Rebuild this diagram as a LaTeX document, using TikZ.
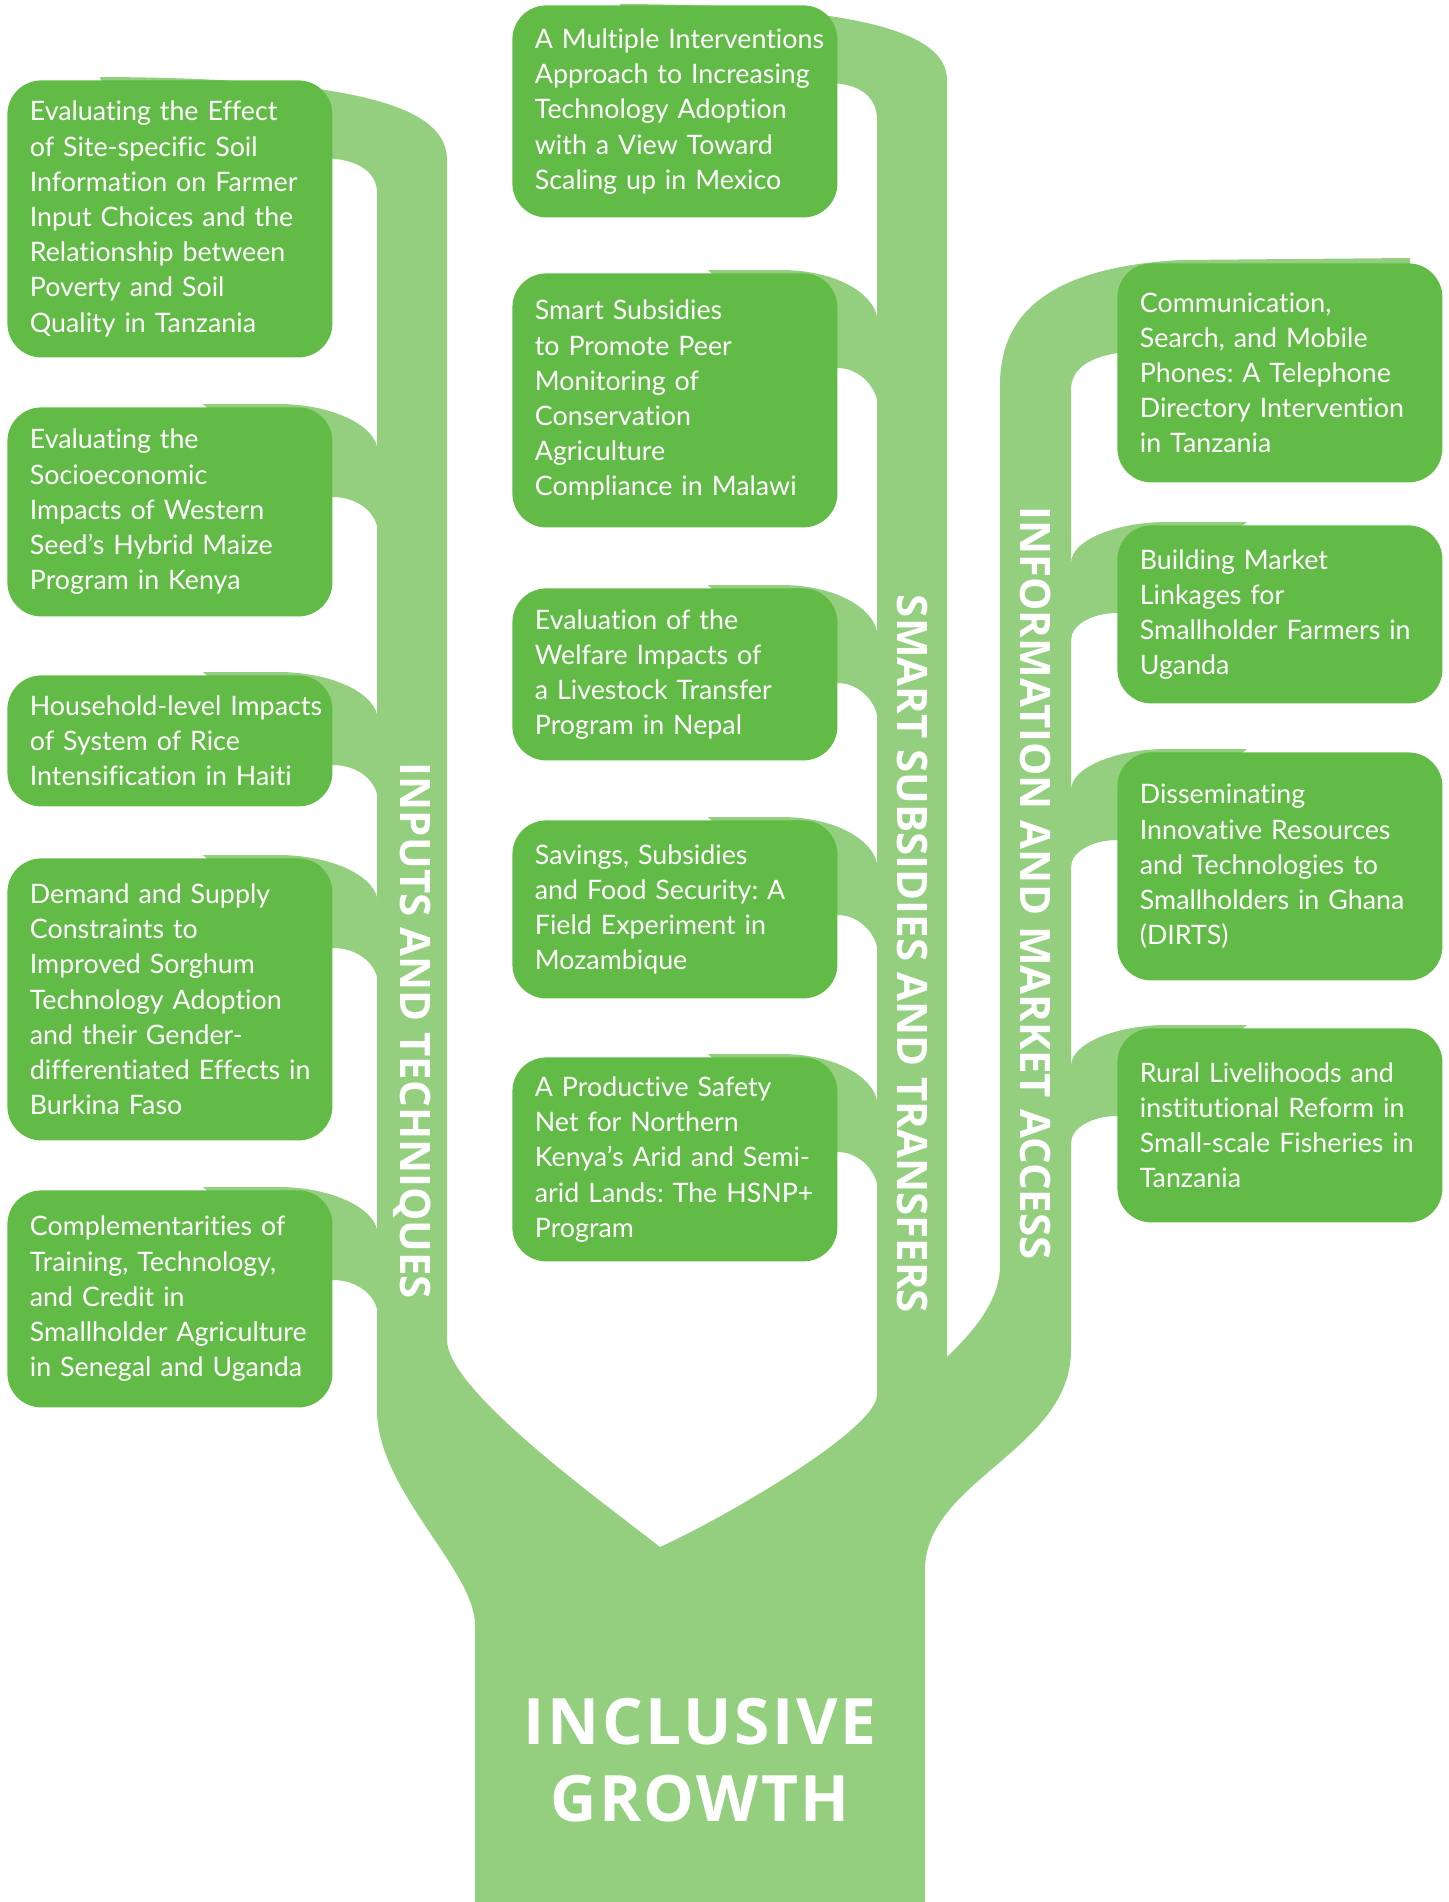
\documentclass[tikz,border=0pt]{standalone}
\usepackage{fontspec}
\setmainfont{Lato}[Ligatures={TeX,NoCommon}]
\newfontfamily\labelfont{Open Sans}
\usepackage{tikz}
\usetikzlibrary{calc,backgrounds}
\definecolor{boxgreen}{RGB}{98,187,70}
\definecolor{stemgreen}{RGB}{147,207,127}
\tikzset{
  study/.style={fill=boxgreen, rounded corners=17pt, text=white, align=left,
    text width=140pt, inner xsep=11.25pt, inner ysep=0pt, minimum width=162.5pt,
    anchor=north west, font=\fontsize{13.4}{17.6}\selectfont,
    execute at begin node={\hyphenpenalty=10000\exhyphenpenalty=10000\hbadness=10000\hfuzz=20pt}},
  stemlabel/.style={text=white, rotate=-90, font=\labelfont\bfseries\fontsize{21}{21}\selectfont},
  growthlabel/.style={text=white, align=center,
    font=\labelfont\bfseries\fontsize{32}{38.5}\selectfont\addfontfeatures{LetterSpace=4}}
}
\frenchspacing

\begin{document}
\begin{tikzpicture}[x=0.5pt, y=-0.5pt]
    \useasboundingbox (0,0) rectangle (1449,1902);

    % Inputs and techniques
    \node[study, minimum height=138.5pt] (lb1) at (7,80) {Evaluating the Effect\\of Site-specific Soil\\Information on Farmer\\Input Choices and the\\Relationship between\\Poverty and Soil\\Quality in Tanzania};
    \node[study, minimum height=104.5pt] (lb2) at (7,407) {Evaluating the\\Socioeconomic\\Impacts of Western\\Seed's Hybrid Maize\\Program in Kenya};
    \node[study, minimum height=65.5pt] (lb3) at (7,675) {Household-level~Impacts\\of System of Rice\\Intensification in Haiti};
    \node[study, minimum height=141pt] (lb4) at (7,858) {Demand and Supply\\Constraints to\\Improved Sorghum\\Technology Adoption\\and their Gender-\\differentiated~Effects~in\\Burkina Faso};
    \node[study, minimum height=108.5pt] (lb5) at (7,1190) {Complementarities of\\Training, Technology,\\and Credit in\\Smallholder~Agriculture\\in Senegal and Uganda};

    % Smart subsidies and transfers
    \node[study, minimum height=106pt] (mb1) at (512,5) {A~Multiple~Interventions\\Approach to Increasing\\Technology Adoption\\with a View Toward\\Scaling up in Mexico};
    \node[study, minimum height=127pt] (mb2) at (512,273) {Smart Subsidies\\to Promote Peer\\Monitoring of\\Conservation\\Agriculture\\Compliance in Malawi};
    \node[study, minimum height=86pt] (mb3) at (512,588) {Evaluation of the\\Welfare Impacts of\\a Livestock Transfer\\Program in Nepal};
    \node[study, minimum height=89pt] (mb4) at (512,820) {Savings, Subsidies\\and Food Security: A\\Field Experiment in\\Mozambique};
    \node[study, minimum height=102pt] (mb5) at (512,1057) {A Productive Safety\\Net for Northern\\Kenya's Arid and Semi-\\arid~Lands:~The~HSNP+\\Program};

    % Information and market access
    \node[study, minimum height=109.5pt] (rb1) at (1117,263) {Communication,\\Search, and Mobile\\Phones: A Telephone\\Directory~Intervention\\in Tanzania};
    \node[study, minimum height=89pt] (rb2) at (1117,525) {Building Market\\Linkages for\\Smallholder~Farmers~in\\Uganda};
    \node[study, minimum height=114pt] (rb3) at (1117,752) {Disseminating\\Innovative Resources\\and Technologies to\\Smallholders~in~Ghana\\(DIRTS)};
    \node[study, minimum height=97pt] (rb4) at (1117,1028) {Rural Livelihoods and\\institutional~Reform~in\\Small-scale~Fisheries~in\\Tanzania};

    \begin{scope}[on background layer]
    % Trunk with the three stems
    \fill[stemgreen]
        (475,1902) -- (475,1625)
        .. controls (475,1570) and (377,1490) .. (377,1410)
        -- (377,193)
        .. controls (377,172) and (358,158) .. (320,158)
        -- (120,158) -- (100,77)
        .. controls (370,78) and (447,110) .. (447,160)
        -- (447,1340)
        .. controls (447,1390) and (600,1500) .. (660,1547)
        .. controls (720,1520) and (877,1430) .. (877,1395)
        -- (877,120)
        .. controls (877,98) and (862,84) .. (830,83)
        -- (640,83) -- (620,4)
        .. controls (850,5) and (947,30) .. (947,80)
        -- (947,1357)
        .. controls (975,1330) and (1000,1300) .. (1000,1265)
        -- (1000,385)
        .. controls (1000,320) and (1040,268) .. (1180,260)
        -- (1410,258) -- (1410,300) -- (1125,352)
        .. controls (1090,356) and (1071,368) .. (1071,390)
        -- (1071,1350)
        .. controls (1071,1450) and (925,1480) .. (925,1570)
        -- (925,1902) -- cycle;

    % Branches from the boxes into the stems
    \foreach \b in {lb2,lb3,lb4,lb5}
        \fill[stemgreen] ($(\b.north east)+(-130,-3)$) -- ($(\b.north east)+(-55,-3)$)
            .. controls ($(\b.north east)+(0,-3)$) and ($(\b.north east)+(45,19)$) .. ($(\b.north east)+(45,45)$)
            -- ($(\b.north east)+(55,45)$) -- ($(\b.north east)+(55,126)$) -- ($(\b.north east)+(45,126)$)
            .. controls ($(\b.north east)+(45,106)$) and ($(\b.north east)+(25,90)$) .. ($(\b.north east)+(0,90)$)
            -- ($(\b.north east)+(-20,90)$) -- cycle;
    \foreach \b in {mb2,mb3,mb4,mb5}
        \fill[stemgreen] ($(\b.north east)+(-130,-3)$) -- ($(\b.north east)+(-57,-3)$)
            .. controls ($(\b.north east)+(0,-3)$) and ($(\b.north east)+(40,22)$) .. ($(\b.north east)+(40,50)$)
            -- ($(\b.north east)+(50,50)$) -- ($(\b.north east)+(50,134)$) -- ($(\b.north east)+(40,134)$)
            .. controls ($(\b.north east)+(40,115)$) and ($(\b.north east)+(22,95)$) .. ($(\b.north east)+(0,95)$)
            -- ($(\b.north east)+(-20,95)$) -- cycle;
    \foreach \b in {rb2,rb3,rb4}
        \fill[stemgreen] ($(\b.north west)+(130,-3)$) -- ($(\b.north west)+(50,-3)$)
            .. controls ($(\b.north west)+(0,-3)$) and ($(\b.north west)+(-46,15)$) .. ($(\b.north west)+(-46,38)$)
            -- ($(\b.north west)+(-56,38)$) -- ($(\b.north west)+(-56,115)$) -- ($(\b.north west)+(-46,115)$)
            .. controls ($(\b.north west)+(-46,100)$) and ($(\b.north west)+(-25,88)$) .. ($(\b.north west)+(0,88)$)
            -- ($(\b.north west)+(20,88)$) -- cycle;
    \end{scope}

    % Stem labels
    \node[stemlabel] (inputs) at (412,1031) {INPUTS AND TECHNIQUES};
    \node[stemlabel] (smart) at (912,954) {SMART SUBSIDIES AND TRANSFERS};
    \node[stemlabel] (info) at (1036,883) {INFORMATION AND MARKET ACCESS};

    % Trunk label
    \node[growthlabel] (growth) at (700,1760) {INCLUSIVE\\GROWTH};
\end{tikzpicture}
\end{document}
